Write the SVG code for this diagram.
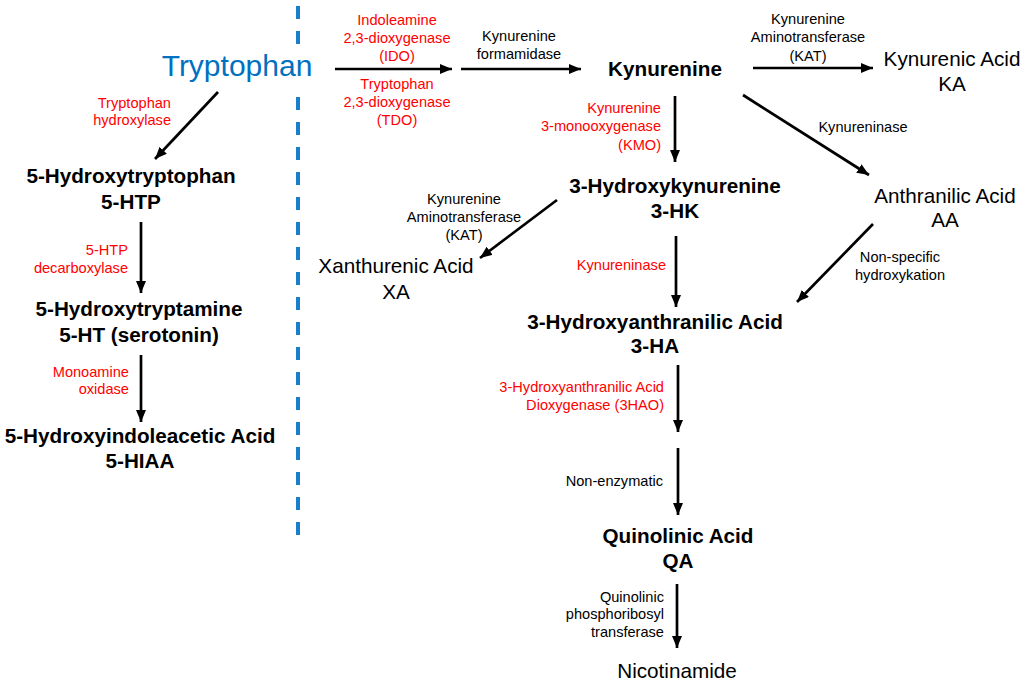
<svg xmlns="http://www.w3.org/2000/svg" width="1024" height="687" viewBox="0 0 1024 687">
<style>
text{font-family:"Liberation Sans",Arial,sans-serif;}
.b{font-weight:bold;font-size:20.7px;fill:#000;text-anchor:middle;}
.n{font-size:20.7px;fill:#000;text-anchor:middle;}
.r{font-size:14.6px;fill:#ff0000;}
.k{font-size:14.6px;fill:#000;}
.m{text-anchor:middle;}
.e{text-anchor:end;}
.ar{stroke:#000;stroke-width:2.7;fill:none;marker-end:url(#ah);}
.dash{stroke:#1a7fcb;stroke-width:4;stroke-dasharray:13,12;}
</style>
<defs>
<marker id="ah" markerUnits="userSpaceOnUse" markerWidth="12" markerHeight="10" refX="12" refY="5" orient="auto">
<path d="M0,0 L12,5 L0,10 z" fill="#000"/>
</marker>
</defs>
<rect width="1024" height="687" fill="#fff"/>
<line class="dash" x1="298" y1="6" x2="298" y2="45"/>
<line class="dash" x1="298" y1="97" x2="298" y2="540"/>

<g id="connectors">
<line class="ar" x1="335" y1="69" x2="452" y2="69"/>
<line class="ar" x1="461" y1="69" x2="581" y2="69"/>
<line class="ar" x1="753" y1="68" x2="873" y2="68"/>
<line class="ar" x1="743" y1="95" x2="869" y2="175"/>
<line class="ar" x1="675" y1="96" x2="675" y2="162"/>
<line class="ar" x1="557" y1="200" x2="480" y2="258"/>
<line class="ar" x1="676" y1="236" x2="676" y2="307"/>
<line class="ar" x1="873" y1="224" x2="797" y2="302"/>
<line class="ar" x1="678" y1="365" x2="678" y2="432"/>
<line class="ar" x1="678" y1="448" x2="678" y2="515"/>
<line class="ar" x1="677" y1="584" x2="677" y2="648"/>
<line class="ar" x1="218" y1="92" x2="155" y2="159"/>
<line class="ar" x1="141" y1="222" x2="141" y2="293"/>
<line class="ar" x1="141" y1="355" x2="141" y2="422"/>
</g>

<g id="labels">
<text class="r m" x="397" y="25">Indoleamine</text>
<text class="r m" x="397" y="43">2,3-dioxygenase</text>
<text class="r m" x="397" y="61">(IDO)</text>
<text class="r m" x="397" y="89">Tryptophan</text>
<text class="r m" x="397" y="107">2,3-dioxygenase</text>
<text class="r m" x="397" y="125">(TDO)</text>
<text class="k m" x="519" y="41">Kynurenine</text>
<text class="k m" x="519" y="59">formamidase</text>
<text class="k m" x="808" y="24">Kynurenine</text>
<text class="k m" x="808" y="42">Aminotransferase</text>
<text class="k m" x="808" y="61">(KAT)</text>
<text class="k m" x="863" y="132">Kynureninase</text>
<text class="r e" x="661" y="113">Kynurenine</text>
<text class="r e" x="661" y="131">3-monooxygenase</text>
<text class="r e" x="661" y="150">(KMO)</text>
<text class="k m" x="464" y="204">Kynurenine</text>
<text class="k m" x="464" y="222">Aminotransferase</text>
<text class="k m" x="464" y="240">(KAT)</text>
<text class="r e" x="666" y="270">Kynureninase</text>
<text class="k m" x="900" y="262">Non-specific</text>
<text class="k m" x="900" y="280">hydroxykation</text>
<text class="r e" x="664" y="392">3-Hydroxyanthranilic Acid</text>
<text class="r e" x="664" y="410">Dioxygenase (3HAO)</text>
<text class="k e" x="663" y="486">Non-enzymatic</text>
<text class="k e" x="664" y="602">Quinolinic</text>
<text class="k e" x="664" y="619">phosphoribosyl</text>
<text class="k e" x="664" y="637">transferase</text>
<text class="r e" x="171" y="108">Tryptophan</text>
<text class="r e" x="171" y="125">hydroxylase</text>
<text class="r e" x="128" y="255">5-HTP</text>
<text class="r e" x="128" y="273">decarboxylase</text>
<text class="r e" x="129" y="377">Monoamine</text>
<text class="r e" x="129" y="394">oxidase</text>
</g>

<g id="tryptophan"><text x="237" y="76" style="font-size:30px;fill:#0070C0;text-anchor:middle">Tryptophan</text></g>
<g id="kynurenine"><text class="b" x="665" y="76">Kynurenine</text></g>
<g id="kynurenic-acid"><text class="n" x="952" y="66">Kynurenic Acid</text><text class="n" x="952" y="91">KA</text></g>
<g id="anthranilic-acid"><text class="n" x="945" y="203">Anthranilic Acid</text><text class="n" x="945" y="227">AA</text></g>
<g id="hydroxykynurenine"><text class="b" x="675" y="193">3-Hydroxykynurenine</text><text class="b" x="675" y="218">3-HK</text></g>
<g id="xanthurenic-acid"><text class="n" x="396" y="273">Xanthurenic Acid</text><text class="n" x="396" y="299">XA</text></g>
<g id="hydroxyanthranilic-acid"><text class="b" x="655" y="329">3-Hydroxyanthranilic Acid</text><text class="b" x="655" y="353">3-HA</text></g>
<g id="quinolinic-acid"><text class="b" x="678" y="543">Quinolinic Acid</text><text class="b" x="678" y="568">QA</text></g>
<g id="nicotinamide"><text class="n" x="677" y="678">Nicotinamide</text></g>
<g id="htp"><text class="b" x="131" y="183">5-Hydroxytryptophan</text><text class="b" x="131" y="209">5-HTP</text></g>
<g id="ht"><text class="b" x="139" y="316">5-Hydroxytryptamine</text><text class="b" x="139" y="342">5-HT (serotonin)</text></g>
<g id="hiaa"><text class="b" x="140" y="443">5-Hydroxyindoleacetic Acid</text><text class="b" x="140" y="468">5-HIAA</text></g>
</svg>
